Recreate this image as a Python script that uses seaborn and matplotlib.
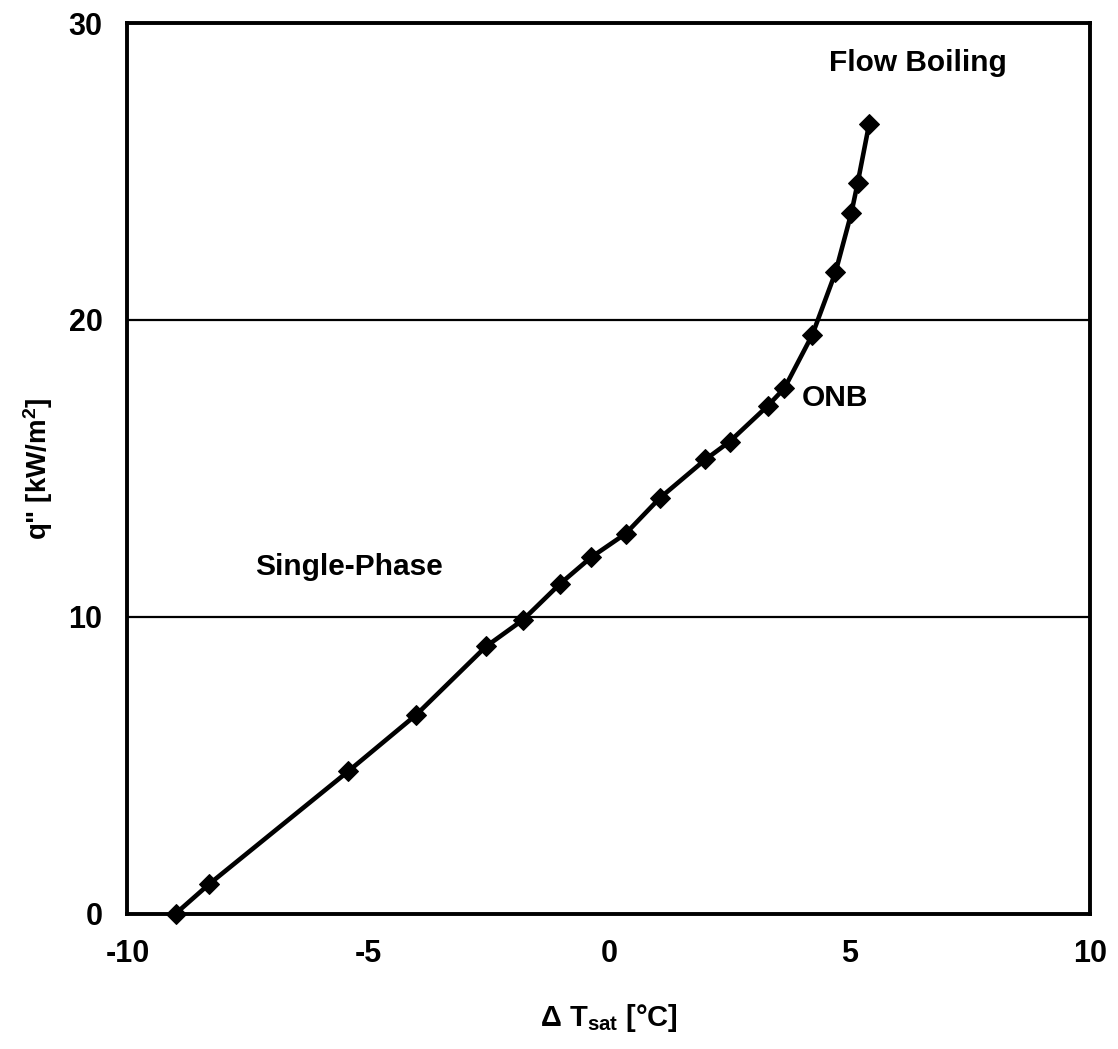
import matplotlib
matplotlib.use("Agg")
import matplotlib.pyplot as plt
import seaborn as sns
import pandas as pd

# Wall superheat vs. heat flux along the boiling curve
delta_t_sat = [-9.0, -8.30, -5.41, -4.00, -2.55, -1.78, -1.02, -0.37, 0.35,
               1.06, 2.01, 2.51, 3.30, 3.65, 4.23, 4.71, 5.04, 5.17, 5.41]
heat_flux = [0.0, 1.0, 4.8, 6.7, 9.0, 9.9, 11.1, 12.0, 12.8,
             14.0, 15.3, 15.9, 17.1, 17.7, 19.5, 21.6, 23.6, 24.6, 26.6]

x_ticks = [-10, -5, 0, 5, 10]
y_ticks = [0, 10, 20, 30]

regions = ["Single-Phase", "ONB", "Flow Boiling"]

sns.set_theme(style="white")
plt.rcParams["font.family"] = ["Liberation Sans", "DejaVu Sans"]
plt.rcParams["font.weight"] = "bold"
plt.rcParams["axes.unicode_minus"] = False
plt.rcParams["mathtext.fontset"] = "custom"
plt.rcParams["mathtext.rm"] = "Liberation Sans:bold"
plt.rcParams["mathtext.bf"] = "Liberation Sans:bold"
plt.rcParams["mathtext.default"] = "bf"

df = pd.DataFrame({"dT": delta_t_sat, "q": heat_flux})

fig = plt.figure(figsize=(11.18, 10.49), dpi=100)
ax = fig.add_axes([0.114, 0.129, 0.861, 0.849])

for yv in y_ticks[1:-1]:
    ax.axhline(yv, color="black", lw=1.6, zorder=1)

sns.lineplot(data=df, x="dT", y="q", sort=False, ax=ax, color="black",
             lw=3.3, marker="D", markersize=10, markeredgecolor="black",
             markerfacecolor="black", zorder=3, clip_on=False,
             solid_joinstyle="round", solid_capstyle="round")

ax.set_xlim(x_ticks[0], x_ticks[-1])
ax.set_ylim(y_ticks[0], y_ticks[-1])
ax.set_xticks(x_ticks)
ax.set_yticks(y_ticks)
ax.tick_params(axis="both", direction="out", length=6, width=2,
               labelsize=22, color="black", labelcolor="black", pad=12)
for lbl in ax.get_xticklabels() + ax.get_yticklabels():
    lbl.set_fontweight("bold")

for side in ["left", "right", "top", "bottom"]:
    ax.spines[side].set_visible(True)
    ax.spines[side].set_color("black")
    ax.spines[side].set_linewidth(2.8)

ax.set_xlabel(r"Δ T$_{\mathbf{sat}}$ [°C]", fontsize=21, fontweight="bold",
              labelpad=24, color="black")
ax.set_ylabel(r'q" [kW/m$^{\mathbf{2}}$]', fontsize=20, fontweight="bold",
              labelpad=10, color="black")

ax.text(-5.39, 11.4, regions[0], fontsize=21.5, fontweight="bold",
        ha="center", va="baseline", color="black")
ax.text(4.02, 17.1, regions[1], fontsize=21.5, fontweight="bold",
        ha="left", va="baseline", color="black")
ax.text(6.43, 28.4, regions[2], fontsize=21.5, fontweight="bold",
        ha="center", va="baseline", color="black")

fig.savefig("out.png", dpi=100, facecolor="white")
